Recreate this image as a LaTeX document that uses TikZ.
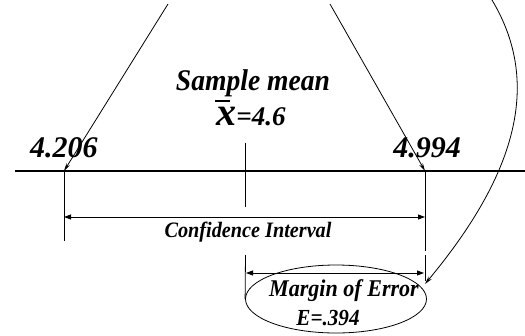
\documentclass[tikz,border=0pt]{standalone}
\usepackage{fontspec}
\setmainfont{Liberation Serif}
\newfontfamily\condfont[FakeStretch=0.92]{Liberation Serif}
\usetikzlibrary{arrows.meta,shapes.geometric}
\begin{document}
\begin{tikzpicture}[x=1pt,y=-1pt,
  lbl/.style={font=\bfseries\itshape, inner sep=0pt, anchor=base},
  clbl/.style={inner sep=0pt, anchor=base},
  thin line/.style={line width=0.8pt},
  dimarrow/.style={line width=0.8pt,{Triangle[length=7pt,width=5pt]}-{Triangle[length=7pt,width=5pt]}},
  ptr/.style={line width=0.8pt,-{Stealth[length=8pt,width=4pt]}}]
\useasboundingbox (0,0) rectangle (525,335);
% axis
\coordinate (axL) at (15,171);
\coordinate (axR) at (525,171);
\coordinate (L) at (64,171);
\coordinate (M) at (245,171);
\coordinate (R) at (425,171);
\draw[line width=2pt] (axL) -- (axR);
% ticks
\coordinate (Lb) at (64,241);
\coordinate (Mt) at (245,143);
\coordinate (Mb) at (245,207);
\coordinate (Rb) at (425,251);
\draw[thin line] (L) -- (Lb);
\draw[thin line] (Mt) -- (Mb);
\draw[thin line] (R) -- (Rb);
% ellipse
\node[ellipse, draw, line width=0.8pt, minimum width=181pt, minimum height=68pt, inner sep=0pt] (me) at (336,299) {};
\coordinate (Mlow) at (245.5,255);
\coordinate (Rlow) at (425,255);
\coordinate (Rlowb) at (425,281);
\draw[thin line] (Mlow) -- (me.west);
\draw[thin line] (Rlow) -- (Rlowb);
% dimension arrows
\coordinate (ciL) at (64,217);
\coordinate (ciR) at (425,217);
\draw[dimarrow] (ciL) -- (ciR);
\coordinate (meL) at (246,273);
\coordinate (meR) at (424,273);
\draw[dimarrow] (meL) -- (meR);
% slanted pointers
\coordinate (s1) at (168,4);
\coordinate (s2) at (330,4);
\draw[ptr] (s1) -- (L);
\draw[ptr] (s2) -- (R);
% curved pointer
\coordinate (c0) at (492,0);
\coordinate (ctip) at (425,284);
\draw[ptr] (c0) .. controls (540,80) and (520,170) .. (ctip);
% labels
\node[clbl, font=\condfont\bfseries\itshape\fontsize{30}{30}\selectfont] (sm) at (253,90) {Sample mean};
\node[lbl, font=\bfseries\itshape\fontsize{27}{27}\selectfont] (xb) at (251,125) {{\fontsize{40}{40}\selectfont\rlap{\hspace{-1pt}\rule[23pt]{15pt}{2pt}}x}=4.6};
\node[lbl, font=\bfseries\itshape\fontsize{30}{30}\selectfont] (v1) at (64,157) {4.206};
\node[lbl, font=\bfseries\itshape\fontsize{30}{30}\selectfont] (v2) at (427,157) {4.994};
\node[clbl, font=\condfont\bfseries\itshape\fontsize{22}{22}\selectfont] (ci) at (248,237) {Confidence Interval};
\node[clbl, font=\condfont\bfseries\itshape\fontsize{24}{24}\selectfont] (mt) at (344,296) {Margin of Error};
\node[clbl, font=\condfont\bfseries\itshape\fontsize{23}{23}\selectfont] (et) at (328,325) {E=.394};
\end{tikzpicture}
\end{document}
